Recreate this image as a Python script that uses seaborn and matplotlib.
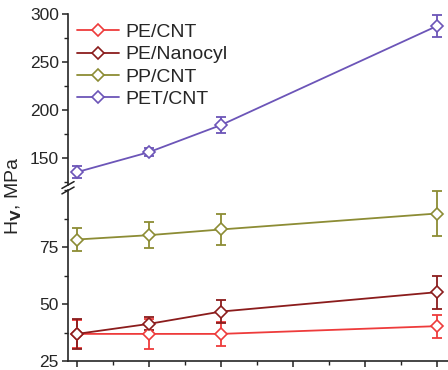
import matplotlib
matplotlib.use("Agg")
import matplotlib.pyplot as plt
import pandas as pd
import seaborn as sns
from matplotlib.lines import Line2D
from matplotlib.ticker import MultipleLocator

series_names = ["PE/CNT", "PE/Nanocyl", "PP/CNT", "PET/CNT"]
x_values = [0, 1, 2, 5]
pe_cnt = [37.1, 37.1, 37.1, 40.5]
pe_cnt_err = [6.3, 6.6, 5.1, 5.0]
pe_nanocyl = [37.1, 41.5, 46.9, 55.4]
pe_nanocyl_err = [6.6, 2.8, 5.0, 7.3]
pp_cnt = [78.5, 80.4, 82.9, 89.9]
pp_cnt_err = [5.0, 5.7, 6.9, 9.7]
pet_cnt = [135.4, 156.2, 184.4, 287.5]
pet_cnt_err = [6.5, 4.5, 8.0, 11.5]
colors = ["#ee3b3b", "#8b1c1c", "#8c8c34", "#6c55b8"]

values = [pe_cnt, pe_nanocyl, pp_cnt, pet_cnt]
errors = [pe_cnt_err, pe_nanocyl_err, pp_cnt_err, pet_cnt_err]

df = pd.DataFrame(
    [
        {"series": name, "x": x, "hv": v, "err": e}
        for name, ys, es in zip(series_names, values, errors)
        for x, v, e in zip(x_values, ys, es)
    ]
)

sns.set_theme(style="ticks")
plt.rcParams["font.family"] = ["Liberation Sans", "DejaVu Sans"]

fig = plt.figure(figsize=(4.48, 3.70), dpi=100)
ax_top = fig.add_axes([0.1518, 0.5000, 0.8482, 0.4622])
ax_bot = fig.add_axes([0.1518, 0.0230, 0.8482, 0.4622])

for ax in (ax_top, ax_bot):
    sns.lineplot(data=df, x="x", y="hv", hue="series", hue_order=series_names,
                 palette=colors, marker="D", markersize=6, markerfacecolor="white",
                 linewidth=1.3, legend=False, ax=ax, zorder=3)
    for line in ax.get_lines():
        line.set_markeredgecolor(line.get_color())
        line.set_markeredgewidth(1.2)
    for name, color in zip(series_names, colors):
        sub = df[df["series"] == name]
        ax.errorbar(sub["x"], sub["hv"], yerr=sub["err"], fmt="none", ecolor=color,
                    elinewidth=1.3, capsize=3.5, capthick=1.3, zorder=2)
    ax.set_xlim(-0.125, 5.153)
    ax.xaxis.set_major_locator(MultipleLocator(1))
    ax.xaxis.set_minor_locator(MultipleLocator(0.5))
    ax.set_xlabel("")
    ax.set_ylabel("")
    ax.spines["right"].set_visible(False)
    ax.spines["top"].set_visible(False)
    ax.spines["left"].set_linewidth(1.2)
    ax.spines["bottom"].set_linewidth(1.2)
    ax.tick_params(which="major", length=4.5, width=1.1, labelsize=12.5, color="#222222", pad=2)
    ax.tick_params(which="minor", length=3, width=1.0, color="#222222")
    ax.tick_params(axis="x", which="both", labelbottom=False)

ax_top.set_ylim(122, 300)
ax_top.yaxis.set_major_locator(MultipleLocator(50))
ax_top.yaxis.set_minor_locator(MultipleLocator(25))
ax_top.spines["bottom"].set_visible(False)
ax_top.tick_params(axis="x", which="both", bottom=False)

ax_bot.set_ylim(25, 100)
ax_bot.set_yticks([25, 50, 75])
ax_bot.yaxis.set_minor_locator(MultipleLocator(12.5))

# break marks on the y spine
d = 0.016
kw = dict(color="#222222", linewidth=1.1, clip_on=False)
ax_top.plot([-d, d], [-0.02, 0.02], transform=ax_top.transAxes, **kw)
ax_bot.plot([-d, d], [0.98, 1.02], transform=ax_bot.transAxes, **kw)

handles = [
    Line2D([], [], color=c, marker="D", markersize=6, markerfacecolor="white",
           markeredgecolor=c, markeredgewidth=1.2, linewidth=1.3)
    for c in colors
]
ax_top.legend(handles, series_names, loc="upper left", bbox_to_anchor=(0.145, 0.968),
              bbox_transform=fig.transFigure, frameon=False, fontsize=14,
              handlelength=2.2, handletextpad=0.3, labelspacing=0.24, borderaxespad=0.2)

fig.text(0.031, 0.47, r"H$_\mathbf{V}$, MPa", rotation=90, fontsize=14,
         ha="center", va="center")

fig.savefig("out.png", dpi=100)
